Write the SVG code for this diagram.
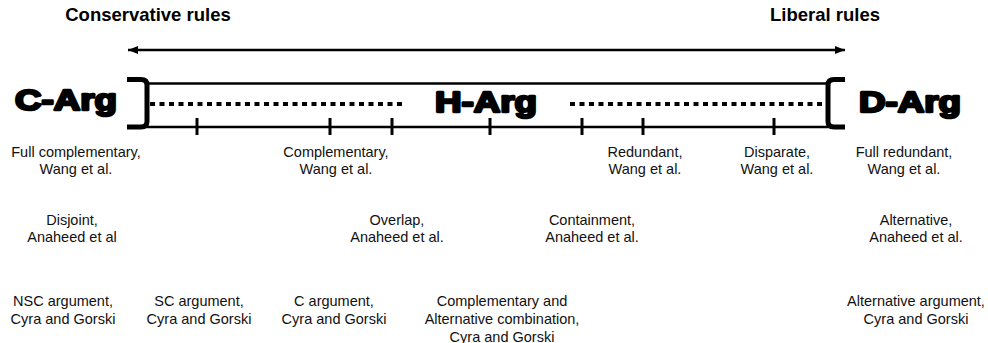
<svg xmlns="http://www.w3.org/2000/svg" width="988" height="343" viewBox="0 0 988 343">
<style>
.t{font-family:"Liberation Sans",Arial,sans-serif;font-size:14.5px;fill:#111;text-anchor:middle}
.h{font-family:"Liberation Sans",Arial,sans-serif;font-size:18.5px;font-weight:bold;fill:#000;text-anchor:middle}
.big{font-family:"Liberation Sans",Arial,sans-serif;font-size:29px;font-weight:bold;fill:#000;stroke:#000;stroke-width:2.4;stroke-linejoin:round}
.ln{stroke:#000;stroke-width:2.5;fill:none}
.br{stroke:#000;stroke-width:5;fill:none;stroke-linejoin:round}
.dot{stroke:#000;stroke-width:4;stroke-dasharray:5 4.5;fill:none}
.tk{stroke:#000;stroke-width:3}
</style>
<defs>
<marker id="ah" viewBox="0 0 10 10" refX="10" refY="5" markerWidth="10" markerHeight="10" markerUnits="userSpaceOnUse" orient="auto-start-reverse">
<path d="M0,1 L10,5 L0,9 z" fill="#000"/>
</marker>
</defs>
<g id="titles">
<text class="h" x="148" y="21">Conservative rules</text>
<text class="h" x="825" y="21">Liberal rules</text>
</g>
<g id="connectors">
<line x1="128" y1="50" x2="845" y2="50" stroke="#000" stroke-width="2.5" marker-start="url(#ah)" marker-end="url(#ah)"/>
</g>
<g id="scale">
<path class="br" d="M127,79.5 H141 Q147,79.5 147,85 V121.5 Q147,127 141,127 H127"/>
<path class="br" d="M845,79.5 H834 Q828,79.5 828,85 V121.5 Q828,127 834,127 H845"/>
<line class="ln" x1="147" y1="83.5" x2="828" y2="83.5"/>
<line class="ln" x1="147" y1="127" x2="828" y2="127"/>
<line class="dot" x1="150" y1="104" x2="405" y2="104"/>
<line class="dot" x1="570" y1="104" x2="826" y2="104"/>
<g>
<line class="tk" x1="197" y1="118" x2="197" y2="135"/>
<line class="tk" x1="330" y1="118" x2="330" y2="135"/>
<line class="tk" x1="392" y1="118" x2="392" y2="135"/>
<line class="tk" x1="490" y1="118" x2="490" y2="135"/>
<line class="tk" x1="582" y1="118" x2="582" y2="135"/>
<line class="tk" x1="643" y1="118" x2="643" y2="135"/>
<line class="tk" x1="774" y1="118" x2="774" y2="135"/>
</g>
</g>
<g id="c-arg"><text class="big" x="15" y="110" textLength="102" lengthAdjust="spacingAndGlyphs">C-Arg</text></g>
<g id="h-arg"><text class="big" x="435" y="112" textLength="102" lengthAdjust="spacingAndGlyphs">H-Arg</text></g>
<g id="d-arg"><text class="big" x="859" y="112" textLength="102" lengthAdjust="spacingAndGlyphs">D-Arg</text></g>
<g id="wang">
<text class="t" x="76" y="157">Full complementary,<tspan x="76" y="174">Wang et al.</tspan></text>
<text class="t" x="336" y="157">Complementary,<tspan x="336" y="174">Wang et al.</tspan></text>
<text class="t" x="645" y="157">Redundant,<tspan x="645" y="174">Wang et al.</tspan></text>
<text class="t" x="777" y="157">Disparate,<tspan x="777" y="174">Wang et al.</tspan></text>
<text class="t" x="904" y="157">Full redundant,<tspan x="904" y="174">Wang et al.</tspan></text>
</g>
<g id="anaheed">
<text class="t" x="72" y="225">Disjoint,<tspan x="72" y="242">Anaheed et al</tspan></text>
<text class="t" x="397" y="225">Overlap,<tspan x="397" y="242">Anaheed et al.</tspan></text>
<text class="t" x="592" y="225">Containment,<tspan x="592" y="242">Anaheed et al.</tspan></text>
<text class="t" x="916" y="225">Alternative,<tspan x="916" y="242">Anaheed et al.</tspan></text>
</g>
<g id="cyra">
<text class="t" x="63" y="306">NSC argument,<tspan x="63" y="323.5">Cyra and Gorski</tspan></text>
<text class="t" x="199" y="306">SC argument,<tspan x="199" y="323.5">Cyra and Gorski</tspan></text>
<text class="t" x="334" y="306">C argument,<tspan x="334" y="323.5">Cyra and Gorski</tspan></text>
<text class="t" x="502" y="306">Complementary and<tspan x="502" y="323.5">Alternative combination,</tspan><tspan x="502" y="342">Cyra and Gorski</tspan></text>
<text class="t" x="916" y="306">Alternative argument,<tspan x="916" y="323.5">Cyra and Gorski</tspan></text>
</g>
</svg>
